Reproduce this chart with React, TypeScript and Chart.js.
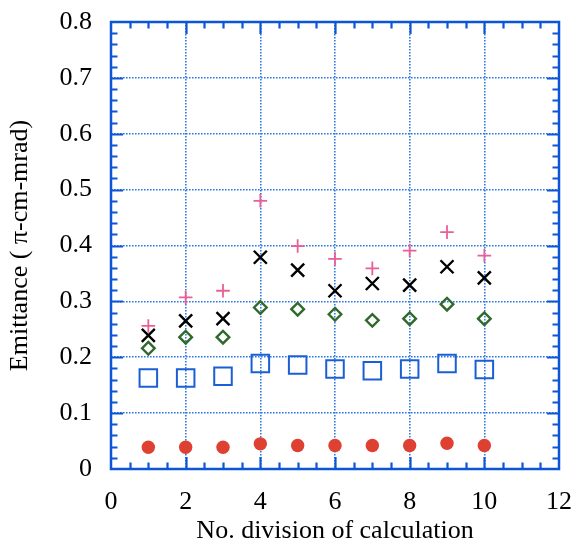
import React, { useEffect, useRef } from "react";
import { Chart, registerables } from "chart.js";

Chart.register(...registerables);

const xValues = [1, 2, 3, 4, 5, 6, 7, 8, 9, 10];
const redCircles = [0.039, 0.039, 0.039, 0.045, 0.042, 0.042, 0.042, 0.042, 0.046, 0.042];
const blueSquares = [0.163, 0.163, 0.166, 0.189, 0.186, 0.179, 0.176, 0.179, 0.189, 0.178];
const greenDiamonds = [0.216, 0.236, 0.236, 0.289, 0.286, 0.277, 0.266, 0.269, 0.295, 0.269];
const blackCrosses = [0.239, 0.265, 0.269, 0.379, 0.356, 0.319, 0.332, 0.329, 0.362, 0.342];
const pinkPlus = [0.256, 0.307, 0.319, 0.48, 0.399, 0.376, 0.359, 0.391, 0.424, 0.382];

const xTickStep = 2;
const xMinorStep = 0.5;
const yTickStep = 0.1;
const yMinorStep = 0.02;
const xMin = 0, xMax = 12, yMin = 0, yMax = 0.8;

const xTitle = "No. division of calculation";
const yTitle = "Emittance ( \u03c0-cm-mrad)";

const FONT = "'Liberation Serif', 'DejaVu Serif', serif";
const FRAME = "#0a56d6";
const GRID = "#2e78e0";

const pts = (ys: number[]) => xValues.map((x, i) => ({ x, y: ys[i] }));

const framePlugin = {
  id: "frame",
  afterDraw(chart: any) {
    const { ctx, chartArea, scales } = chart;
    const { left, right, top, bottom } = chartArea;
    const xs = scales.x, ys = scales.y;
    ctx.save();
    ctx.strokeStyle = FRAME;
    ctx.lineWidth = 2.2;
    ctx.setLineDash([]);
    ctx.beginPath();
    const nX = Math.round((xMax - xMin) / xMinorStep);
    for (let i = 1; i < nX; i++) {
      const v = xMin + i * xMinorStep;
      const px = Math.round(xs.getPixelForValue(v)) + 0.5;
      const major = Math.abs(v / xTickStep - Math.round(v / xTickStep)) < 1e-6;
      const len = major ? 12 : 6.5;
      ctx.moveTo(px, bottom);
      ctx.lineTo(px, bottom - len);
      ctx.moveTo(px, top);
      ctx.lineTo(px, top + len);
    }
    const nY = Math.round((yMax - yMin) / yMinorStep);
    for (let i = 1; i < nY; i++) {
      const v = yMin + i * yMinorStep;
      const py = Math.round(ys.getPixelForValue(v)) + 0.5;
      const major = Math.abs(v / yTickStep - Math.round(v / yTickStep)) < 1e-6;
      const len = major ? 12 : 6.5;
      ctx.moveTo(left, py);
      ctx.lineTo(left + len, py);
      ctx.moveTo(right, py);
      ctx.lineTo(right - len, py);
    }
    ctx.stroke();
    ctx.lineWidth = 2.5;
    ctx.strokeRect(left, top, right - left, bottom - top);
    ctx.restore();
  },
};

export default function App() {
  const ref = useRef<HTMLCanvasElement | null>(null);
  useEffect(() => {
    if (!ref.current) return;
    const chart = new Chart(ref.current, {
      type: "scatter",
      data: {
        datasets: [
          {
            label: "circles",
            data: pts(redCircles),
            pointStyle: "circle",
            pointRadius: 6.7,
            backgroundColor: "#de4032",
            borderColor: "#de4032",
            borderWidth: 0,
          },
          {
            label: "squares",
            data: pts(blueSquares),
            pointStyle: "rect",
            pointRadius: 12.4,
            backgroundColor: "rgba(0,0,0,0)",
            borderColor: "#1a5fd6",
            borderWidth: 2,
          },
          {
            label: "diamonds",
            data: pts(greenDiamonds),
            pointStyle: "rectRot",
            pointRadius: 6.3,
            backgroundColor: "rgba(0,0,0,0)",
            borderColor: "#2f6a2c",
            borderWidth: 2.4,
          },
          {
            label: "crosses",
            data: pts(blackCrosses),
            pointStyle: "crossRot",
            pointRadius: 9.2,
            backgroundColor: "#000",
            borderColor: "#000",
            borderWidth: 2.4,
          },
          {
            label: "plus",
            data: pts(pinkPlus),
            pointStyle: "cross",
            pointRadius: 6.8,
            backgroundColor: "#ea5f98",
            borderColor: "#ea5f98",
            borderWidth: 1.8,
          },
        ],
      },
      options: {
        animation: false,
        responsive: false,
        maintainAspectRatio: false,
        layout: { padding: { left: 0, right: 15, top: 22, bottom: 0 } },
        plugins: { legend: { display: false }, tooltip: { enabled: false } },
        elements: { point: { hoverRadius: 0 } },
        scales: {
          x: {
            type: "linear",
            min: xMin,
            max: xMax,
            afterFit: (s: any) => {
              s.height = 75;
              s.paddingLeft = 0;
              s.paddingRight = 0;
            },
            ticks: {
              stepSize: xTickStep,
              padding: 18,
              color: "#000",
              font: { family: FONT, size: 26 },
              maxRotation: 0,
            },
            grid: {
              color: GRID,
              lineWidth: 1.6,
              drawTicks: false,
            },
            border: { display: false, dash: [1.6, 1.4] },
            title: {
              display: true,
              text: xTitle,
              color: "#000",
              font: { family: FONT, size: 26, lineHeight: 1 },
              padding: { top: 0, bottom: 0 },
            },
          },
          y: {
            type: "linear",
            min: yMin,
            max: yMax,
            afterFit: (s: any) => {
              s.width = 111;
              s.paddingTop = 0;
              s.paddingBottom = 0;
            },
            ticks: {
              stepSize: yTickStep,
              padding: 19,
              color: "#000",
              font: { family: FONT, size: 26 },
              callback: (v: any) => (v === 0 ? "0" : Number(v).toFixed(1)),
            },
            grid: {
              color: GRID,
              lineWidth: 1.6,
              drawTicks: false,
            },
            border: { display: false, dash: [1.6, 1.4] },
            title: {
              display: true,
              text: yTitle,
              color: "#000",
              font: { family: FONT, size: 26, lineHeight: 1 },
              padding: { top: 7, bottom: 0 },
            },
          },
        },
      },
      plugins: [framePlugin],
    });
    return () => chart.destroy();
  }, []);
  return (
    <div style={{ position: "fixed", left: 0, top: 0, width: 574, height: 544, background: "#fff" }}>
      <canvas ref={ref} width={574} height={544} style={{ width: 574, height: 544, display: "block" }} />
    </div>
  );
}
